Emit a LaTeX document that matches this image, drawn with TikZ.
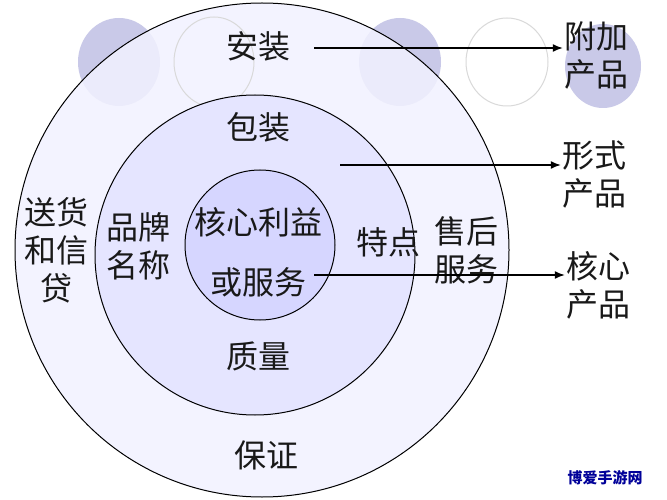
\documentclass[tikz,border=0pt]{standalone}
\usepackage{fontspec}
\setmainfont{Noto Sans CJK SC}
\usetikzlibrary{arrows.meta}
\begin{document}
\begin{tikzpicture}[x=1pt,y=-1pt,
  lbl/.style={font=\fontsize{32}{38}\selectfont, text=black!90, align=center, inner sep=1pt},
  arr/.style={-{Latex[length=10pt,width=8pt]}, line width=1.5pt}]
\useasboundingbox (0,0) rectangle (667,500);
\fill[white] (0,0) rectangle (667,500);
\fill[blue!40!gray!30] (119,62) ellipse (41 and 44);
\fill[blue!40!gray!30] (400,62) ellipse (41 and 44);
\fill[blue!40!gray!30] (603,66) ellipse (38 and 42);
\draw[black!15, line width=1pt] (507,62) ellipse (41 and 44);
\draw[fill=blue!5, fill opacity=0.85, line width=1pt] (262,250) circle (247);
\draw[black!15, line width=1pt] (214,62) ellipse (40 and 45);
\draw[fill=blue!10, line width=1pt] (255,255) circle (160);
\draw[fill=blue!16, line width=1pt] (260,245) circle (75);
\node[lbl] (az) at (258,46) {安装};
\node[lbl] (bz) at (258,127) {包装};
\node[lbl] (hx) at (258,222) {核心利益};
\node[lbl] (hf) at (258,282) {或服务};
\node[lbl] (pp) at (138,246) {品牌\\名称};
\node[lbl] (td) at (388,242) {特点};
\node[lbl] (sh) at (466,250) {售后\\服务};
\node[lbl] (sd) at (56,250) {送货\\和信\\贷};
\node[lbl] (zl) at (258,356) {质量};
\node[lbl] (bzh) at (266,455) {保证};
\node[lbl] (fj) at (596,55) {附加\\产品};
\node[lbl] (xs) at (594,175) {形式\\产品};
\node[lbl] (hx2) at (598,285) {核心\\产品};
\coordinate (a1) at (314,48);
\coordinate (a2) at (340,165);
\coordinate (a3) at (314,275);
\draw[arr] (a1) -- (fj.west |- a1);
\draw[arr] (a2) -- (xs.west |- a2);
\draw[arr] (a3) -- (hx2.west |- a3);
\node[font=\bfseries\fontsize{15}{16}\selectfont, text=blue!60!black] (wm) at (605,478) {博爱手游网};
\end{tikzpicture}
\end{document}
